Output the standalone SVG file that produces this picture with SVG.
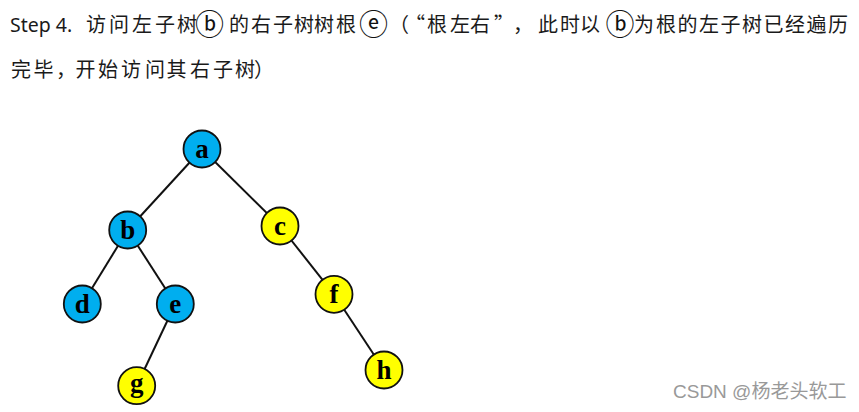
<svg xmlns="http://www.w3.org/2000/svg" width="859" height="412" viewBox="0 0 859 412">
<style>
.cj{font-family:"Noto Sans CJK SC","Noto Sans",sans-serif;font-size:20px;fill:#1a1a1a}
.lat{font-family:"Noto Sans","Open Sans",sans-serif;font-size:19.5px;fill:#1a1a1a}
.circ{font-family:"Noto Sans CJK SC","DejaVu Sans",sans-serif;font-size:29px;fill:#111;text-anchor:middle}
.n circle{stroke:#111;stroke-width:1.8}
.blue{fill:#00AEEF}
.yel{fill:#FFFF00}
.n text{font-family:"Liberation Serif","Times New Roman",serif;font-weight:bold;font-size:27px;fill:#000;text-anchor:middle}
#edges line{stroke:#111;stroke-width:2}
.wm{font-family:"Liberation Sans","Noto Sans CJK SC",sans-serif;font-size:19px;fill:#999}
</style>
<rect width="859" height="412" fill="#fff"/>
<g id="caption">
<text class="lat" x="10" y="31.5">Step 4.</text>
<text class="cj" x="86 109 132 155 177" y="31.5">访问左子树</text>
<text class="circ" x="209.5" y="35">ⓑ</text>
<text class="cj" x="229 251 273 294 314 336" y="31.5">的右子树树根</text>
<text class="circ" x="373.5" y="35">ⓔ</text>
<text class="cj" x="389 405 427 450 470 494 513 538 560 580" y="31.5">（“根左右”，此时以</text>
<text class="circ" x="620" y="35">ⓑ</text>
<text class="cj" x="634 656 677.5 699 720.5 742 763.5 785 806.5 828" y="31.5">为根的左子树已经遍历</text>
<text class="cj" x="11 33.5 56 75.5 98 121 145 166.5 190 213 235 254" y="77">完毕，开始访问其右子树）</text>
</g>
<g id="edges">
<line x1="202" y1="149" x2="127.7" y2="230"/>
<line x1="202" y1="149" x2="280" y2="226"/>
<line x1="127.7" y1="230" x2="82.3" y2="304"/>
<line x1="127.7" y1="230" x2="175.3" y2="304"/>
<line x1="175.3" y1="304" x2="136.7" y2="385.7"/>
<line x1="280" y1="226" x2="334" y2="294.3"/>
<line x1="334" y1="294.3" x2="384" y2="370"/>
</g>
<g id="node-a" class="n"><circle class="blue" cx="202" cy="149" r="18.5"/><text x="202" y="157.5">a</text></g>
<g id="node-b" class="n"><circle class="blue" cx="127.7" cy="230" r="18.5"/><text x="127.7" y="239">b</text></g>
<g id="node-c" class="n"><circle class="yel" cx="280" cy="226" r="18.5"/><text x="280" y="234.5">c</text></g>
<g id="node-d" class="n"><circle class="blue" cx="82.3" cy="304" r="18.5"/><text x="82.3" y="313">d</text></g>
<g id="node-e" class="n"><circle class="blue" cx="175.3" cy="304" r="18.5"/><text x="175.3" y="312.5">e</text></g>
<g id="node-f" class="n"><circle class="yel" cx="334" cy="294.3" r="18.5"/><text x="334" y="303">f</text></g>
<g id="node-g" class="n"><circle class="yel" cx="136.7" cy="385.7" r="18.5"/><text x="136.7" y="392">g</text></g>
<g id="node-h" class="n"><circle class="yel" cx="384" cy="370" r="18.5"/><text x="384" y="379">h</text></g>
<text class="wm" x="673" y="398">CSDN @杨老头软工</text>
</svg>
